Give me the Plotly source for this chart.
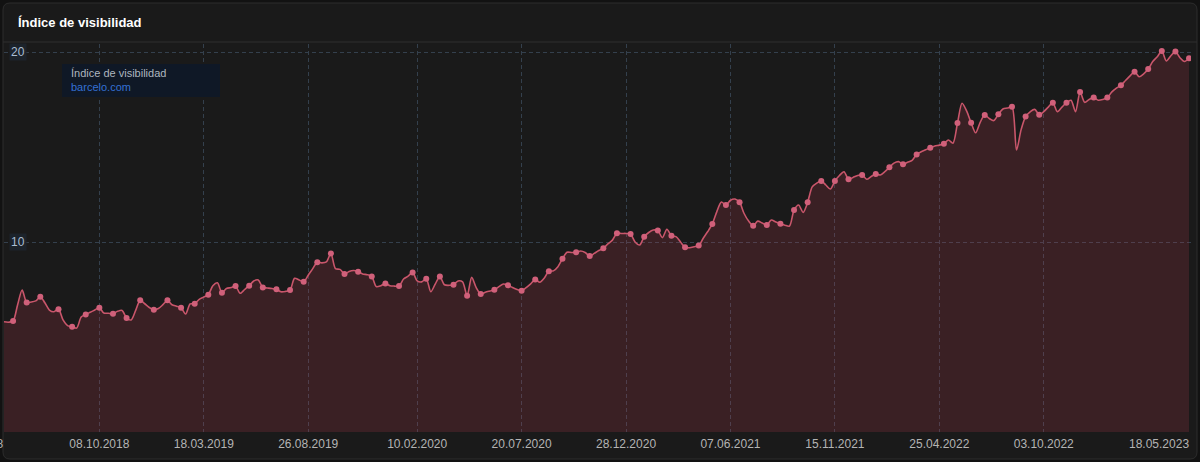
import datetime as dt
import plotly.graph_objects as go

# ---------------- data ----------------
start_date = dt.date(2018, 5, 14)
visibility = [
    5.8, 5.78, 5.84, 6.7, 7.47, 6.82, 6.84, 6.9, 7.12, 6.8,
    6.42, 6.33, 6.46, 5.9, 5.6, 5.54, 5.47, 6.05, 6.19, 6.3,
    6.42, 6.54, 6.26, 6.25, 6.23, 6.35, 6.4, 6.0, 5.9, 6.4,
    6.93, 6.75, 6.55, 6.44, 6.5, 6.7, 6.93, 6.7, 6.62, 6.54,
    6.21, 6.74, 6.75, 6.98, 7.1, 7.23, 7.7, 7.85, 7.33, 7.55,
    7.6, 7.68, 7.3, 7.5, 7.7, 7.95, 8.0, 7.61, 7.58, 7.55,
    7.51, 7.38, 7.4, 7.47, 8.09, 8.0, 7.91, 8.25, 8.6, 8.93,
    8.9, 8.95, 9.4, 8.6, 8.56, 8.32, 8.45, 8.5, 8.44, 8.32,
    8.28, 8.18, 7.65, 7.7, 7.81, 7.7, 7.68, 7.68, 8.05, 8.2,
    8.4, 7.95, 7.9, 8.07, 7.38, 7.8, 8.18, 7.75, 7.72, 7.75,
    7.95, 7.9, 7.17, 8.14, 7.6, 7.26, 7.35, 7.42, 7.49, 7.65,
    7.79, 7.72, 7.6, 7.5, 7.44, 7.6, 7.8, 8.02, 7.88, 8.1,
    8.46, 8.48, 8.7, 9.12, 9.46, 9.45, 9.46, 9.53, 9.45, 9.26,
    9.4, 9.55, 9.67, 9.9, 10.1, 10.46, 10.45, 10.45, 10.42, 10.0,
    9.84, 10.28, 10.5, 10.63, 10.6, 10.23, 10.67, 10.33, 10.28, 10.0,
    9.72, 9.7, 9.75, 9.81, 10.2, 10.55, 10.95, 11.6, 12.1, 11.95,
    12.2, 12.26, 12.09, 11.5, 11.1, 10.86, 11.1, 11.0, 10.89, 11.16,
    11.05, 10.96, 10.88, 10.84, 11.68, 11.95, 11.56, 12.09, 12.9, 13.1,
    13.21, 13.0, 12.79, 13.21, 13.5, 13.7, 13.3, 13.4, 13.5, 13.53,
    13.3, 13.45, 13.58, 13.53, 13.7, 13.93, 14.15, 14.23, 14.09, 14.2,
    14.3, 14.61, 14.75, 14.85, 14.96, 15.05, 15.1, 15.17, 15.37, 15.2,
    16.26, 17.3, 16.9, 16.28, 15.75, 16.3, 16.68, 16.5, 16.39, 16.72,
    17.0, 17.05, 17.12, 14.84, 15.9, 16.6, 16.85, 16.98, 16.7, 16.86,
    17.1, 17.33, 16.86, 17.1, 17.33, 17.46, 16.86, 17.89, 17.35, 17.5,
    17.61, 17.46, 17.5, 17.6, 17.9, 18.1, 18.25, 18.5, 18.74, 18.96,
    18.7, 18.85, 19.1, 19.5, 19.75, 20.05, 19.53, 19.8, 20.02, 19.7,
    19.5, 19.67,
]
dates = [start_date + dt.timedelta(days=7 * i) for i in range(len(visibility))]

tick_dates = ["2018-10-08", "2019-03-18", "2019-08-26", "2020-02-10", "2020-07-20",
              "2020-12-28", "2021-06-07", "2021-11-15", "2022-04-25", "2022-10-03",
              "2023-05-18"]
tick_labels = ["08.10.2018", "18.03.2019", "26.08.2019", "10.02.2020", "20.07.2020",
               "28.12.2020", "07.06.2021", "15.11.2021", "25.04.2022", "03.10.2022",
               "18.05.2023"]
first_label = "14.05.2018"
y_ticks = [10, 20]

title_text = "Índice de visibilidad"
legend_title = "Índice de visibilidad"
legend_domain = "barcelo.com"

# ---------------- style ----------------
W, H = 1200, 462
L, R, T, B = 4, 9, 44, 30
PW, PH = W - L - R, H - T - B

def px(x):
    return (x - L) / PW

def py(y):
    return (H - B - y) / PH

paper_bg = "#121212"
card_bg = "#1a1a1a"
line_col = "#c9566b"
marker_col = "#d0607a"
fill_col = "rgba(190,60,80,0.2)"
grid_col = "#34404d"
font_fam = "Liberation Sans, Arial, sans-serif"

marker_idx = [2, 5, 8] + list(range(12, len(visibility), 3))

fig = go.Figure()
fig.add_trace(go.Scatter(
    x=dates, y=visibility, mode="lines",
    line=dict(color=line_col, width=1.6, shape="spline", smoothing=0.8),
    fill="tozeroy", fillcolor=fill_col, hoverinfo="skip", showlegend=False,
))
fig.add_trace(go.Scatter(
    x=[dates[i] for i in marker_idx], y=[visibility[i] for i in marker_idx],
    mode="markers", marker=dict(color=marker_col, size=6),
    hoverinfo="skip", showlegend=False,
))

# rounded card border
rx, ry = 7 / PW, 7 / PH
x0, x1, y0, y1 = px(3), px(1197), py(459), py(3)
card_path = (f"M {x0+rx},{y0} L {x1-rx},{y0} Q {x1},{y0} {x1},{y0+ry} "
             f"L {x1},{y1-ry} Q {x1},{y1} {x1-rx},{y1} L {x0+rx},{y1} "
             f"Q {x0},{y1} {x0},{y1-ry} L {x0},{y0+ry} Q {x0},{y0} {x0+rx},{y0} Z")

shapes = [
    dict(type="path", path=card_path, xref="paper", yref="paper",
         line=dict(color="#2c2c2c", width=1), fillcolor=card_bg, layer="below"),
    dict(type="line", xref="paper", yref="paper", x0=px(3), x1=px(1197),
         y0=py(42), y1=py(42), line=dict(color="#2e2e2e", width=1)),
    dict(type="rect", xref="paper", yref="paper", x0=px(62), x1=px(220),
         y0=py(97), y1=py(64), fillcolor="#0f1826", line=dict(width=0), layer="above"),
]

annotations = [
    dict(text=f"<b>{title_text}</b>", xref="paper", yref="paper", x=px(16), y=py(23),
         xanchor="left", yanchor="middle", showarrow=False,
         font=dict(family=font_fam, size=13, color="#ffffff")),
    dict(text=legend_title, xref="paper", yref="paper", x=px(69), y=py(73),
         xanchor="left", yanchor="middle", showarrow=False,
         font=dict(family=font_fam, size=11, color="#aeb6bf")),
    dict(text=legend_domain, xref="paper", yref="paper", x=px(69), y=py(87),
         xanchor="left", yanchor="middle", showarrow=False,
         font=dict(family=font_fam, size=11, color="#3470d4")),
    dict(text=first_label, xref="paper", yref="paper", x=px(5), y=py(444),
         xanchor="right", yanchor="middle", showarrow=False,
         font=dict(family=font_fam, size=12, color="#b4b4b4")),
    dict(text=tick_labels[-1], xref="x", yref="paper", x=tick_dates[-1], y=py(444),
         xanchor="right", yanchor="middle", showarrow=False,
         font=dict(family=font_fam, size=12, color="#b4b4b4")),
]
for v in y_ticks:
    annotations.append(dict(text=str(v), xref="paper", yref="y", x=px(9), y=v,
                            xanchor="left", yanchor="middle", showarrow=False,
                            bgcolor="#1c232b", borderpad=1,
                            font=dict(family=font_fam, size=12, color="#a9bdd2")))

fig.update_layout(
    width=W, height=H,
    margin=dict(l=L, r=R, t=T, b=B),
    paper_bgcolor=paper_bg, plot_bgcolor=card_bg,
    shapes=shapes, annotations=annotations,
    hovermode=False,
    xaxis=dict(
        type="date", range=[str(start_date), "2023-05-18"],
        tickvals=tick_dates, ticktext=tick_labels[:-1] + [""],
        showgrid=True, gridcolor=grid_col, griddash="4px,3px", gridwidth=1,
        zeroline=False, showline=False, ticks="", ticklabelstandoff=3,
        tickfont=dict(family=font_fam, size=12, color="#b4b4b4"),
    ),
    yaxis=dict(
        range=[0, (H - B - T) / 19], tickvals=y_ticks, showticklabels=False,
        showgrid=True, gridcolor=grid_col, griddash="4px,3px", gridwidth=1,
        zeroline=False, showline=False, ticks="",
    ),
)

fig.write_html("out.html", config={"displayModeBar": False},
               post_script="document.body.style.margin='0';document.body.style.overflow='hidden';")
